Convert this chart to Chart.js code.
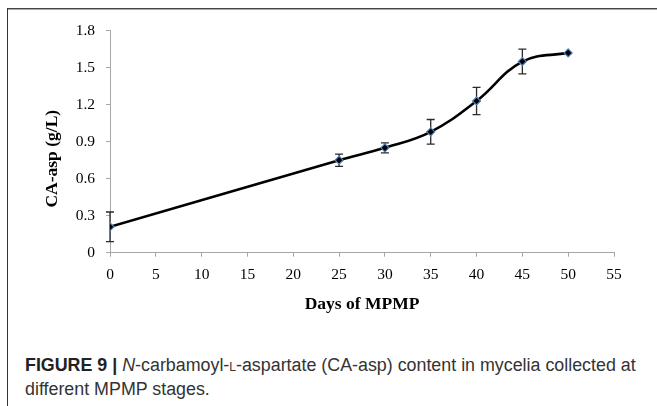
<!DOCTYPE html>
<html>
<head>
<meta charset="utf-8">
<script src="https://cdn.jsdelivr.net/npm/chart.js@4"></script>
<style>
  html, body { margin: 0; padding: 0; background: #fff; width: 657px; height: 406px; overflow: hidden; }
  #frameTop { position: absolute; left: 7px; top: 8px; width: 660px; height: 0; border-top: 1px solid #444; border-bottom: 1px solid #aaa; }
  #frameLeft { position: absolute; left: 7px; top: 8px; width: 0; height: 400px; border-left: 1px solid #333; }
  #wrap { position: absolute; left: 0; top: 0; width: 657px; height: 320px; }
  #caption { position: absolute; left: 25px; top: 353px; width: 632px; font-family: "Liberation Sans", Arial, sans-serif; font-size: 17.85px; line-height: 24px; color: #333; white-space: nowrap; }
  #caption b { color: #222; }
</style>
</head>
<body>
<div id="frameTop"></div>
<div id="frameLeft"></div>
<div id="wrap"><canvas id="c" width="657" height="320"></canvas></div>
<div id="caption"><b>FIGURE 9 |</b> <i>N</i>-carbamoyl-<span style="font-variant:small-caps">l</span>-aspartate (CA-asp) content in mycelia collected at<br>different MPMP stages.</div>
<script>
// Data
const days = [0, 25, 30, 35, 40, 45, 50];
const caAsp = [0.21, 0.75, 0.85, 0.98, 1.23, 1.55, 1.62];
const errors = [0.12, 0.05, 0.04, 0.10, 0.11, 0.10, 0.0];
const xTickValues = [0, 5, 10, 15, 20, 25, 30, 35, 40, 45, 50, 55];
const yTickValues = [0, 0.3, 0.6, 0.9, 1.2, 1.5, 1.8];
const xTitle = 'Days of MPMP';
const yTitle = 'CA-asp (g/L)';

const points = days.map((d, i) => ({ x: d, y: caAsp[i] }));

const serif = '"Liberation Serif", "Times New Roman", serif';

const errorBarPlugin = {
  id: 'errorBars',
  beforeDatasetsDraw(chart) {
    const { ctx, scales: { x, y } } = chart;
    ctx.save();
    ctx.strokeStyle = '#2b2b2b';
    ctx.lineWidth = 1.3;
    days.forEach((d, i) => {
      const e = errors[i];
      if (!e) return;
      const px = x.getPixelForValue(d);
      const top = y.getPixelForValue(caAsp[i] + e);
      const bot = y.getPixelForValue(caAsp[i] - e);
      const cap = 4;
      ctx.beginPath();
      ctx.moveTo(px, top); ctx.lineTo(px, bot);
      ctx.moveTo(px - cap, top); ctx.lineTo(px + cap, top);
      ctx.moveTo(px - cap, bot); ctx.lineTo(px + cap, bot);
      ctx.stroke();
    });
    ctx.restore();
  }
};

// y-axis title, drawn slightly below the axis centre as in the reference
const yTitlePlugin = {
  id: 'yTitle',
  afterDraw(chart) {
    const { ctx, chartArea } = chart;
    const cy = (chartArea.top + chartArea.bottom) / 2 + 17;
    ctx.save();
    ctx.translate(52, cy);
    ctx.rotate(-Math.PI / 2);
    ctx.font = 'bold 17.5px ' + serif;
    ctx.fillStyle = '#000';
    ctx.textAlign = 'center';
    ctx.textBaseline = 'middle';
    ctx.fillText(yTitle, 0, 0);
    ctx.restore();
  }
};

const tickFont = { family: serif, size: 15.5 };
const titleFont = { family: serif, size: 17.5, weight: 'bold' };

new Chart(document.getElementById('c'), {
  type: 'line',
  data: {
    datasets: [{
      data: points,
      borderColor: '#000',
      borderWidth: 2.6,
      tension: 0.4,
      pointStyle: 'rectRot',
      pointRadius: 4,
      pointBackgroundColor: '#000',
      pointBorderColor: '#4f81bd',
      pointBorderWidth: 1.2,
      fill: false
    }]
  },
  plugins: [errorBarPlugin, yTitlePlugin],
  options: {
    responsive: false,
    animation: false,
    events: [],
    layout: { padding: { left: 0, top: 30.7, right: 43, bottom: 5.3 } },
    plugins: { legend: { display: false }, tooltip: { enabled: false } },
    scales: {
      x: {
        type: 'linear',
        min: 0, max: 55,
        afterBuildTicks(scale) { scale.ticks = xTickValues.map(v => ({ value: v })); },
        afterFit(scale) { scale.height = 62; },
        grid: { drawOnChartArea: false, drawTicks: true, tickLength: 4, color: '#a6a6a6' },
        border: { color: '#a6a6a6', width: 1 },
        ticks: { font: tickFont, color: '#000', padding: 9, maxRotation: 0, callback: v => String(v) },
        title: { display: true, text: xTitle, font: titleFont, color: '#000', padding: { top: 0, bottom: 0 } }
      },
      y: {
        type: 'linear',
        min: 0, max: 1.8,
        afterBuildTicks(scale) { scale.ticks = yTickValues.map(v => ({ value: v })); },
        afterFit(scale) { scale.width = 110; },
        grid: { drawOnChartArea: false, drawTicks: true, tickLength: 4, color: '#a6a6a6' },
        border: { color: '#a6a6a6', width: 1 },
        ticks: { font: tickFont, color: '#000', padding: 11, callback: v => (v === 0 ? '0' : v.toFixed(1)) },
        title: { display: false }
      }
    }
  }
});
</script>
</body>
</html>
